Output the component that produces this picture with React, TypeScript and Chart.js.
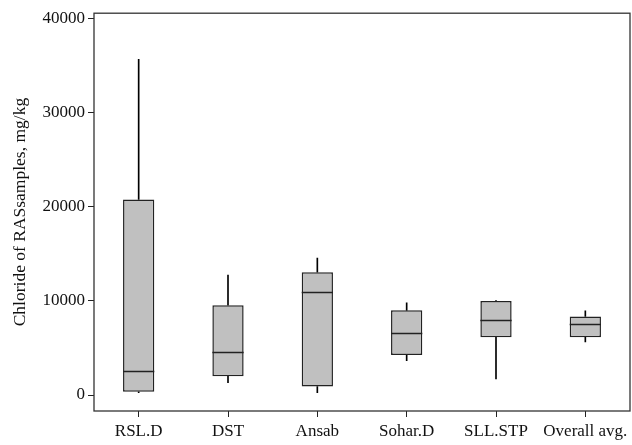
import React, { useEffect, useRef } from "react";
import { Chart, registerables } from "chart.js";

Chart.register(...registerables);

// Sites along the x axis
const categories = ["RSL.D", "DST", "Ansab", "Sohar.D", "SLL.STP", "Overall avg."];

// Five-number summaries of chloride (mg/kg) per site
const minValues = [250, 1300, 250, 3650, 1700, 5650];
const q1Values = [350, 2000, 900, 4250, 6150, 6150];
const medianValues = [2550, 4550, 10950, 6600, 7950, 7550];
const q3Values = [20800, 9550, 13050, 9000, 10000, 8350];
const maxValues = [35700, 12750, 14550, 9800, 10050, 8950];

// Y axis tick values
const yTicks = [0, 10000, 20000, 30000, 40000];

const FONT = "'Liberation Serif', 'Times New Roman', serif";
const INK = "#222222";

const frameAndMedians = {
  id: "frameAndMedians",
  afterDatasetsDraw(chart: any) {
    const { ctx, chartArea, scales } = chart;
    const meta = chart.getDatasetMeta(0);
    ctx.save();
    ctx.strokeStyle = INK;
    ctx.lineWidth = 1.5;
    meta.data.forEach((bar: any, i: number) => {
      const y = Math.round(scales.y.getPixelForValue(medianValues[i])) + 0.5;
      ctx.beginPath();
      ctx.moveTo(bar.x - bar.width / 2, y);
      ctx.lineTo(bar.x + bar.width / 2, y);
      ctx.stroke();
    });
    ctx.lineWidth = 1.3;
    ctx.strokeStyle = "#333333";
    ctx.strokeRect(
      chartArea.left,
      chartArea.top,
      chartArea.right - chartArea.left,
      chartArea.bottom - chartArea.top
    );
    ctx.restore();
  },
};

export default function App() {
  const canvasRef = useRef<HTMLCanvasElement | null>(null);

  useEffect(() => {
    if (!canvasRef.current) return;
    const whisker = {
      type: "bar" as const,
      backgroundColor: "#000000",
      borderWidth: 0,
      barThickness: 1,
      grouped: false,
      order: 1,
    };
    const chart = new Chart(canvasRef.current, {
      type: "bar",
      data: {
        labels: categories,
        datasets: [
          {
            label: "IQR",
            data: categories.map((_, i) => [q1Values[i], q3Values[i]]),
            backgroundColor: "#c0c0c0",
            borderColor: INK,
            borderWidth: 1.5,
            borderSkipped: false,
            barPercentage: 0.35,
            categoryPercentage: 1,
            grouped: false,
            order: 0,
          },
          {
            ...whisker,
            label: "upper",
            data: categories.map((_, i) => [q3Values[i], maxValues[i]]),
          },
          {
            ...whisker,
            label: "lower",
            data: categories.map((_, i) => [minValues[i], q1Values[i]]),
          },
        ] as any,
      },
      options: {
        animation: false,
        responsive: false,
        maintainAspectRatio: false,
        layout: { padding: { top: 10, right: 2, left: 0, bottom: 0 } },
        plugins: {
          legend: { display: false },
          tooltip: { enabled: false },
        },
        scales: {
          x: {
            type: "category",
            offset: true,
            border: { display: false },
            grid: {
              offset: false,
              drawOnChartArea: false,
              drawTicks: true,
              tickLength: 6,
              color: INK,
              lineWidth: 1,
            },
            ticks: {
              color: "#111111",
              font: { family: FONT, size: 17 },
              padding: 4,
              maxRotation: 0,
              autoSkip: false,
            },
            afterFit: (scale: any) => {
              scale.height = 34;
            },
          },
          y: {
            type: "linear",
            min: -1700,
            max: 40600,
            border: { display: false },
            grid: {
              drawOnChartArea: false,
              drawTicks: true,
              tickLength: 6,
              color: INK,
              lineWidth: 1,
            },
            ticks: {
              color: "#111111",
              font: { family: FONT, size: 17 },
              padding: 3,
              callback: (value: any) => String(value),
            },
            afterBuildTicks: (scale: any) => {
              scale.ticks = yTicks.map((v) => ({ value: v }));
            },
            afterFit: (scale: any) => {
              scale.width = 94;
            },
            title: {
              display: true,
              text: "Chloride of RASsamples, mg/kg",
              color: "#111111",
              font: { family: FONT, size: 17.5 },
              padding: { top: 10, bottom: 0 },
            },
          },
        },
      },
      plugins: [frameAndMedians],
    });
    return () => chart.destroy();
  }, []);

  return (
    <div style={{ position: "fixed", left: 0, top: 0, width: 632, height: 445, background: "#ffffff" }}>
      <canvas ref={canvasRef} width={632} height={445} style={{ width: 632, height: 445 }} />
    </div>
  );
}
